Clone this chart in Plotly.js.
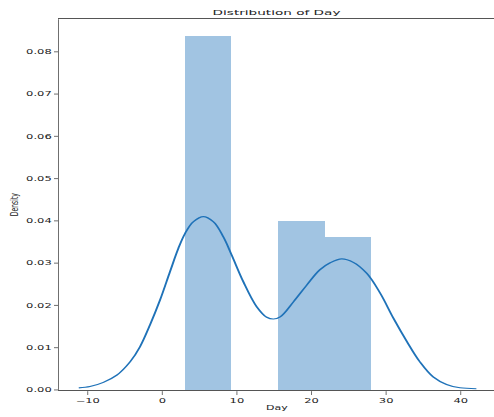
<!DOCTYPE html>
<html>
<head>
<meta charset="utf-8">
<script src="https://cdn.plot.ly/plotly-3.0.1.min.js"></script>
<style>
  html, body { margin: 0; padding: 0; overflow: hidden; background: #fff; }
  #chart { width: 494px; height: 758px; transform: scaleY(0.55); transform-origin: 0 0; }
</style>
</head>
<body>
<div id="chart"></div>
<script>
// Histogram (density) bins
const binEdges = [3, 9.25, 15.5, 21.75, 28];
const binDensity = [0.0837, 0, 0.0400, 0.0363];

// KDE curve points
const kdeX = [-11.2, -9.7, -7.9, -6.1, -4.3, -3.0, -1.65, -0.3, 1.03, 2.15, 3.04, 4.16, 5.5, 6.84, 8.18, 9.3, 10.86, 12.65, 14.0, 14.9, 15.8, 17.6, 19.36, 21.1, 22.5, 24.05, 25.6, 27.4, 29.2, 31.0, 32.8, 34.5, 36.3, 38.1, 39.9, 42.1];
const kdeY = [0.0005, 0.0008, 0.0018, 0.0035, 0.0067, 0.0102, 0.0154, 0.0213, 0.0280, 0.0335, 0.0370, 0.0398, 0.0410, 0.0398, 0.0362, 0.0319, 0.0256, 0.0197, 0.0172, 0.0168, 0.0173, 0.0209, 0.0248, 0.0284, 0.0301, 0.0310, 0.0302, 0.0276, 0.0229, 0.0169, 0.0114, 0.0067, 0.0031, 0.0013, 0.0005, 0.0003];

const xTickVals = [-10, 0, 10, 20, 30, 40];
const xTickText = ['\u221210', '0', '10', '20', '30', '40'];
const yTickVals = [0, 0.01, 0.02, 0.03, 0.04, 0.05, 0.06, 0.07, 0.08];
const yTickText = ['0.00', '0.01', '0.02', '0.03', '0.04', '0.05', '0.06', '0.07', '0.08'];

const titleText = 'Distribution of Day';
const xLabel = 'Day';
const yLabel = 'Density';

const binCenters = binEdges.slice(0, -1).map((e, i) => (e + binEdges[i + 1]) / 2);
const binWidths = binEdges.slice(0, -1).map((e, i) => binEdges[i + 1] - e);

const H = 758;
const font = 'DejaVu Sans, sans-serif';

const traces = [
  {
    type: 'bar',
    x: binCenters,
    y: binDensity,
    width: binWidths,
    marker: { color: 'rgba(31,115,185,0.42)', line: { width: 0 } },
    hoverinfo: 'skip'
  },
  {
    type: 'scatter',
    mode: 'lines',
    x: kdeX,
    y: kdeY,
    line: { color: '#1f72b8', width: 2.0, shape: 'spline', smoothing: 1.0 },
    hoverinfo: 'skip'
  }
];

const layout = {
  width: 494,
  height: H,
  margin: { l: 59, r: 0, t: 35, b: 49, pad: 0 },
  paper_bgcolor: '#fff',
  plot_bgcolor: '#fff',
  showlegend: false,
  bargap: 0,
  title: {
    text: titleText,
    font: { family: font, size: 13.6, color: '#222' },
    x: 0.5, xref: 'paper', xanchor: 'center',
    y: 1 - 21.8 / H, yref: 'container', yanchor: 'middle'
  },
  xaxis: {
    range: [-13.85, 44.46],
    tickmode: 'array', tickvals: xTickVals, ticktext: xTickText,
    ticks: 'outside', ticklen: 7, tickwidth: 1, tickcolor: '#444',
    showgrid: false, zeroline: false,
    showline: true, linecolor: '#555', linewidth: 2.2, mirror: true,
    tickfont: { family: font, size: 11.5, color: '#222' }
  },
  yaxis: {
    range: [0, 0.0877],
    tickmode: 'array', tickvals: yTickVals, ticktext: yTickText,
    ticks: 'outside', ticklen: 4, tickwidth: 1, tickcolor: '#444',
    showgrid: false, zeroline: false,
    showline: true, linecolor: '#444', linewidth: 1, mirror: false,
    tickfont: { family: font, size: 11.5, color: '#222' }
  },
  annotations: [
    {
      text: xLabel, xref: 'paper', yref: 'paper', x: 0.5, y: 0,
      xanchor: 'center', yanchor: 'middle', yshift: -32, showarrow: false,
      font: { family: font, size: 11, color: '#222' }
    },
    {
      text: yLabel, xref: 'paper', yref: 'paper', x: 0, y: 0.5,
      xanchor: 'center', yanchor: 'middle', xshift: -45, textangle: -90, showarrow: false,
      font: { family: font, size: 11, color: '#222' }
    }
  ]
};

Plotly.newPlot('chart', traces, layout, { staticPlot: true, displayModeBar: false });
</script>
</body>
</html>
